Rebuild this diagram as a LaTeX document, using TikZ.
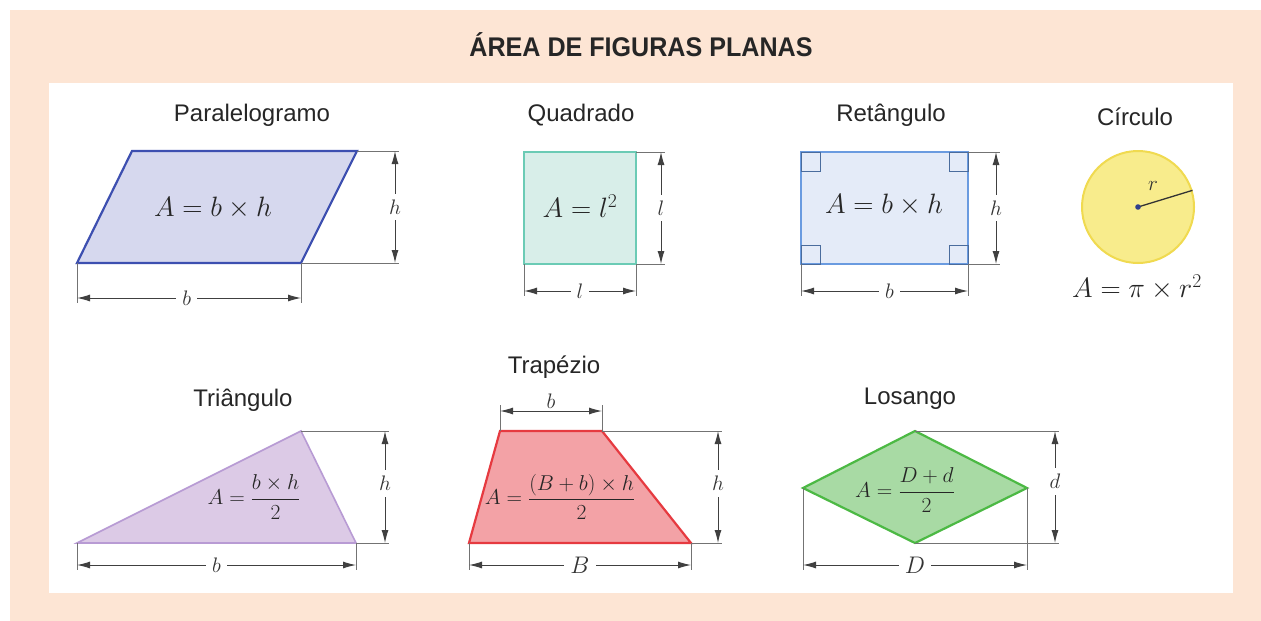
\documentclass[tikz,border=0pt]{standalone}
\usepackage{fix-cm}
\usepackage[no-math]{fontspec}
\setmainfont{Liberation Sans}
\usepackage{amsmath}
\usetikzlibrary{arrows.meta}
\definecolor{pessego}{HTML}{FDE5D4}
\definecolor{parborda}{HTML}{3D4FB0}
\definecolor{parfundo}{HTML}{D6D8EE}
\definecolor{quaborda}{HTML}{6BCBB5}
\definecolor{quafundo}{HTML}{D8EEE9}
\definecolor{retborda}{HTML}{6A9BE0}
\definecolor{retfundo}{HTML}{E4EBF8}
\definecolor{cirborda}{HTML}{F0DA50}
\definecolor{cirfundo}{HTML}{F8EC8C}
\definecolor{triborda}{HTML}{B89BD4}
\definecolor{trifundo}{HTML}{DCCAE6}
\definecolor{traborda}{HTML}{E63A40}
\definecolor{trafundo}{HTML}{F3A2A6}
\definecolor{losborda}{HTML}{4CB944}
\definecolor{losfundo}{HTML}{A8DAA4}
\tikzset{
	figtitulo/.style={font=\fontsize{24}{28}\selectfont,text=black!85},
	formula/.style={font=\fontsize{28}{32}\selectfont,text=black!85},
	fracao/.style={font=\fontsize{21.5}{25}\selectfont,text=black!85},
	cota/.style={draw=black!75,line width=1pt,{Latex[length=13pt,width=7pt]}-{Latex[length=13pt,width=7pt]}},
	linha/.style={draw=black!55,line width=0.7pt},
	medida/.style={font=\fontsize{21}{24}\selectfont,fill=white,inner sep=6pt,text=black!80},
	forma/.style 2 args={draw=#1,fill=#2,line width=2.2pt,line join=miter},
	canto/.style={draw=retborda!70!black,line width=0.7pt}
}
\begin{document}
\begin{tikzpicture}[x=1pt,y=-1pt]
	\useasboundingbox (0,0) rectangle (1261,621);
	\fill[white] (0,0) rectangle (1261,621);
	\fill[pessego] (10,10) rectangle (1261,621);
	\fill[white] (49,83) rectangle (1233,593);
	\node[font=\fontsize{27}{30}\selectfont\bfseries,text=black!85] (titulo) at (641,45) {\scalebox{0.93}[1]{ÁREA DE FIGURAS PLANAS}};

	\coordinate (p1) at (77,263);
	\coordinate (p2) at (132,151);
	\coordinate (p3) at (357,151);
	\coordinate (p4) at (301,263);
	\coordinate (cpar) at (395,298);
	\node[figtitulo] (titpar) at (252,115) {Paralelogramo};
	\draw[forma={parborda}{parfundo}] (p1) -- (p2) -- (p3) -- (p4) -- cycle;
	\node[formula] (fpar) at (213,208) {$A=b\times h$};
	\draw[linha] (p3) -- ([xshift=4pt]cpar |- p3);
	\draw[linha] (p4) -- ([xshift=4pt]cpar |- p4);
	\draw[linha] (p1) -- ([yshift=-5pt]p1 |- cpar);
	\draw[linha] (p4) -- ([yshift=-5pt]p4 |- cpar);
	\draw[cota] (cpar |- p3) -- node[medida] (hpar) {$h$} (cpar |- p4);
	\draw[cota] (p1 |- cpar) -- node[medida,pos=0.49] (bpar) {$b$} (p4 |- cpar);

	\coordinate (q1) at (524,264);
	\coordinate (q2) at (524,152);
	\coordinate (q3) at (636,152);
	\coordinate (q4) at (636,264);
	\coordinate (cqua) at (661,291);
	\node[figtitulo] (titqua) at (581,115) {Quadrado};
	\draw[forma={quaborda}{quafundo}] (q1) -- (q2) -- (q3) -- (q4) -- cycle;
	\node[formula] (fqua) at (580,206) {$A=l^2$};
	\draw[linha] (q3) -- ([xshift=4pt]cqua |- q3);
	\draw[linha] (q4) -- ([xshift=4pt]cqua |- q4);
	\draw[linha] (q1) -- ([yshift=-5pt]q1 |- cqua);
	\draw[linha] (q4) -- ([yshift=-5pt]q4 |- cqua);
	\draw[cota] (cqua |- q3) -- node[medida] (lqua) {$l$} (cqua |- q4);
	\draw[cota] (q1 |- cqua) -- node[medida] (bqua) {$l$} (q4 |- cqua);

	\coordinate (r1) at (801,264);
	\coordinate (r2) at (801,152);
	\coordinate (r3) at (968,152);
	\coordinate (r4) at (968,264);
	\coordinate (cret) at (996,291);
	\node[figtitulo] (titret) at (891,115) {Retângulo};
	\draw[forma={retborda}{retfundo}] (r1) -- (r2) -- (r3) -- (r4) -- cycle;
	\draw[canto] (r1) rectangle ++(19,-19);
	\draw[canto] (r2) rectangle ++(19,19);
	\draw[canto] (r3) rectangle ++(-19,19);
	\draw[canto] (r4) rectangle ++(-19,-19);
	\node[formula] (fret) at (884,205) {$A=b\times h$};
	\draw[linha] (r3) -- ([xshift=4pt]cret |- r3);
	\draw[linha] (r4) -- ([xshift=4pt]cret |- r4);
	\draw[linha] (r1) -- ([yshift=-5pt]r1 |- cret);
	\draw[linha] (r4) -- ([yshift=-5pt]r4 |- cret);
	\draw[cota] (cret |- r3) -- node[medida] (hret) {$h$} (cret |- r4);
	\draw[cota] (r1 |- cret) -- node[medida,pos=0.53] (bret) {$b$} (r4 |- cret);

	\node[figtitulo] (titcir) at (1135,117) {Círculo};
	\node[circle,draw=cirborda,fill=cirfundo,line width=2pt,minimum size=112pt,inner sep=0pt] (circ) at (1138,207) {};
	\draw[black!80,line width=1.3pt] (circ.center) -- (circ.17);
	\fill[parborda!80!black] (circ.center) circle (2.8);
	\node[medida,fill=none,inner sep=1pt] (rcir) at (1153,186) {$r$};
	\node[formula] (fcir) at (1137,287) {$A=\pi\times r^2$};

	\coordinate (t1) at (77,543);
	\coordinate (t2) at (301,431);
	\coordinate (t3) at (356,543);
	\coordinate (ctri) at (385,565);
	\node[figtitulo] (tittri) at (243,400) {Triângulo};
	\draw[forma={triborda}{trifundo},line width=1.6pt] (t1) -- (t2) -- (t3) -- cycle;
	\node[fracao] (ftri) at (254,497) {$A=\dfrac{b\times h}{2}$};
	\draw[linha] (t2) -- ([xshift=4pt]ctri |- t2);
	\draw[linha] (t3) -- ([xshift=4pt]ctri |- t3);
	\draw[linha] (t1) -- ([yshift=-5pt]t1 |- ctri);
	\draw[linha] (t3) -- ([yshift=-5pt]t3 |- ctri);
	\draw[cota] (ctri |- t2) -- node[medida,pos=0.47] (htri) {$h$} (ctri |- t3);
	\draw[cota] (t1 |- ctri) -- node[medida,pos=0.5] (btri) {$b$} (t3 |- ctri);

	\coordinate (z1) at (469,543);
	\coordinate (z2) at (500,431);
	\coordinate (z3) at (602,431);
	\coordinate (z4) at (691,543);
	\coordinate (ctra) at (718,565);
	\coordinate (btra) at (0,411);
	\node[figtitulo] (tittra) at (554,367) {Trapézio};
	\draw[forma={traborda}{trafundo}] (z1) -- (z2) -- (z3) -- (z4) -- cycle;
	\node[fracao] (ftra) at (560,497) {$A=\dfrac{(B+b)\times h}{2}$};
	\draw[linha] (z2) -- ([yshift=6pt]z2 |- btra);
	\draw[linha] (z3) -- ([yshift=6pt]z3 |- btra);
	\draw[linha] (z3) -- ([xshift=4pt]ctra |- z3);
	\draw[linha] (z4) -- ([xshift=4pt]ctra |- z4);
	\draw[linha] (z1) -- ([yshift=-5pt]z1 |- ctra);
	\draw[linha] (z4) -- ([yshift=-5pt]z4 |- ctra);
	\draw[cota] (z2 |- btra) -- node[medida,fill=none,inner sep=1pt,above=1pt] (btop) {$b$} (z3 |- btra);
	\draw[cota] (ctra |- z3) -- node[medida,pos=0.47] (htra) {$h$} (ctra |- z4);
	\draw[cota] (z1 |- ctra) -- node[medida,font=\fontsize{24}{28}\selectfont] (Btra) {$B$} (z4 |- ctra);

	\coordinate (l1) at (803,488);
	\coordinate (l2) at (915,431);
	\coordinate (l3) at (1027,488);
	\coordinate (l4) at (915,543);
	\coordinate (clos) at (1055,565);
	\node[figtitulo] (titlos) at (910,399) {Losango};
	\draw[forma={losborda}{losfundo}] (l1) -- (l2) -- (l3) -- (l4) -- cycle;
	\node[fracao] (flos) at (905,490) {$A=\dfrac{D+d}{2}$};
	\draw[linha] (l2) -- ([xshift=4pt]clos |- l2);
	\draw[linha] (l4) -- ([xshift=4pt]clos |- l4);
	\draw[linha] (l1) -- ([yshift=-5pt]l1 |- clos);
	\draw[linha] (l3) -- ([yshift=-5pt]l3 |- clos);
	\draw[cota] (clos |- l2) -- node[medida,pos=0.45] (dlos) {$d$} (clos |- l4);
	\draw[cota] (l1 |- clos) -- node[medida,font=\fontsize{24}{28}\selectfont] (Dlos) {$D$} (l3 |- clos);
\end{tikzpicture}
\end{document}
